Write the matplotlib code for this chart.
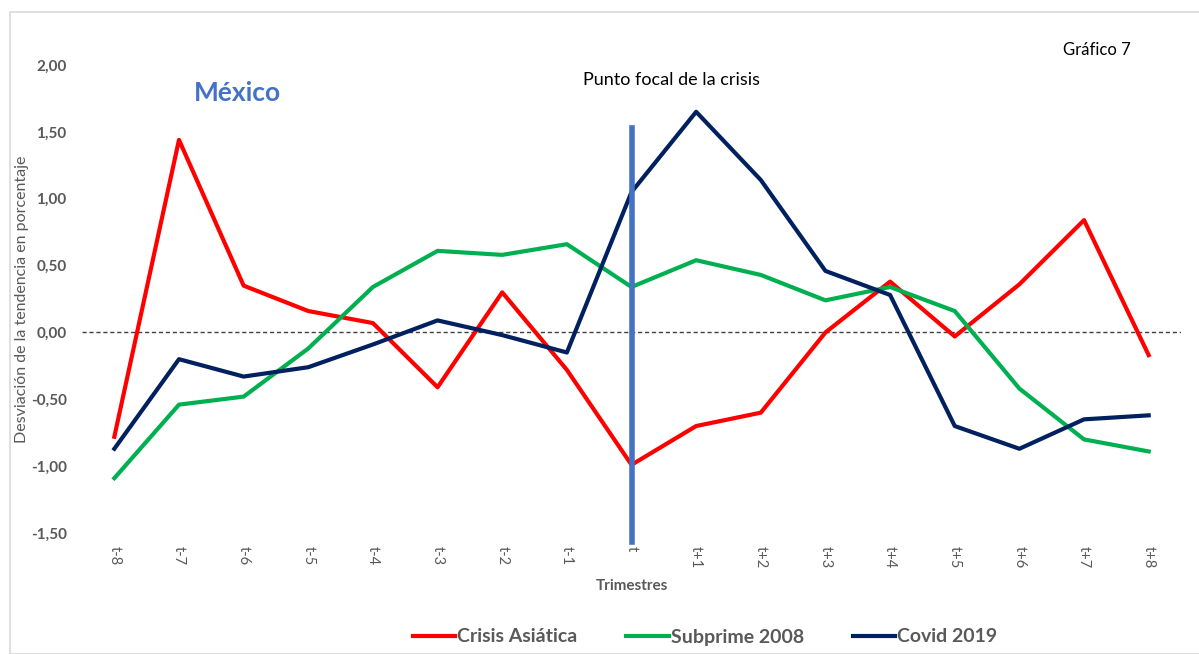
import matplotlib
matplotlib.use("Agg")
import matplotlib.pyplot as plt
from matplotlib.patches import Rectangle
from matplotlib.ticker import FuncFormatter

plt.rcParams['font.family'] = ['Lato', 'DejaVu Sans']

# data
trimestres = ['t-8', 't-7', 't-6', 't-5', 't-4', 't-3', 't-2', 't-1', 't',
              't+1', 't+2', 't+3', 't+4', 't+5', 't+6', 't+7', 't+8']
crisis_asiatica = [-0.78, 1.44, 0.35, 0.16, 0.07, -0.41, 0.30, -0.28, -0.99,
                   -0.70, -0.60, 0.00, 0.38, -0.03, 0.36, 0.84, -0.17]
subprime_2008 = [-1.09, -0.54, -0.48, -0.12, 0.34, 0.61, 0.58, 0.66, 0.34,
                 0.54, 0.43, 0.24, 0.34, 0.16, -0.42, -0.80, -0.89]
covid_2019 = [-0.87, -0.20, -0.33, -0.26, -0.09, 0.09, -0.02, -0.15, 1.05,
              1.65, 1.14, 0.46, 0.28, -0.70, -0.87, -0.65, -0.62]
foco = 't'

gray = '#595959'
x = list(range(len(trimestres)))

fig = plt.figure(figsize=(11.99, 6.54), dpi=100)
# light frame round the chart area
fig.patches.append(Rectangle((10 / 1199, 0), 1, 1 - 12 / 654, transform=fig.transFigure,
                             fill=False, edgecolor='#d9d9d9', linewidth=1.2))

ax = fig.add_axes([0.0684, 0.185, 0.9166, 0.7156])

ax.axhline(0, color='#404040', linestyle='--', linewidth=1, dashes=(3, 2), zorder=1)

ax.plot(x, crisis_asiatica, color='#FF0000', linewidth=3, label='Crisis Asiática', zorder=3)
ax.plot(x, subprime_2008, color='#00B050', linewidth=3, label='Subprime 2008', zorder=3)
ax.plot(x, covid_2019, color='#002060', linewidth=3, label='Covid 2019', zorder=3)

# focal point marker line
xf = trimestres.index(foco)
ax.plot([xf, xf], [-1.57, 1.53], color='#4472C4', linewidth=4, zorder=4, clip_on=False)

ax.set_xlim(-0.5, len(trimestres) - 0.5)
ax.set_ylim(-1.5, 2.0)
ax.set_yticks([-1.5, -1.0, -0.5, 0, 0.5, 1.0, 1.5, 2.0])
ax.yaxis.set_major_formatter(FuncFormatter(lambda v, p: f'{v:.2f}'.replace('.', ',')))
ax.set_xticks(x)
ax.set_xticklabels(trimestres, rotation=270, color=gray, fontsize=10.5)
for lbl in ax.get_yticklabels():
    lbl.set_fontweight('bold')
    lbl.set_color(gray)
    lbl.set_fontsize(11)
ax.tick_params(axis='both', length=0)
ax.tick_params(axis='x', pad=9)
ax.tick_params(axis='y', pad=11)
for s in ax.spines.values():
    s.set_visible(False)

ax.set_xlabel('Trimestres', color=gray, fontweight='bold', fontsize=11, labelpad=8)
ax.set_ylabel('Desviación de la tendencia en porcentaje', color=gray, fontsize=11.5)
ax.yaxis.set_label_coords(-0.048, 0.5)

fig.text(672 / 1199, 1 - 80 / 654, 'Punto focal de la crisis', ha='center', va='center',
         fontsize=13, color='black')
fig.text(237 / 1199, 1 - 93 / 654, 'México', ha='center', va='center',
         fontsize=19, fontweight='bold', color='#4472C4')
fig.text(1097 / 1199, 1 - 50 / 654, 'Gráfico 7', ha='center', va='center',
         fontsize=12, color='black')

leg = fig.legend(loc='center', bbox_to_anchor=(705 / 1199, 1 - 637 / 654), ncol=3,
                 frameon=False, fontsize=14, handlelength=2.2, handletextpad=0.1,
                 columnspacing=2.5)
for t in leg.get_texts():
    t.set_color(gray)
    t.set_fontweight('bold')

fig.savefig('out.png', dpi=100)
